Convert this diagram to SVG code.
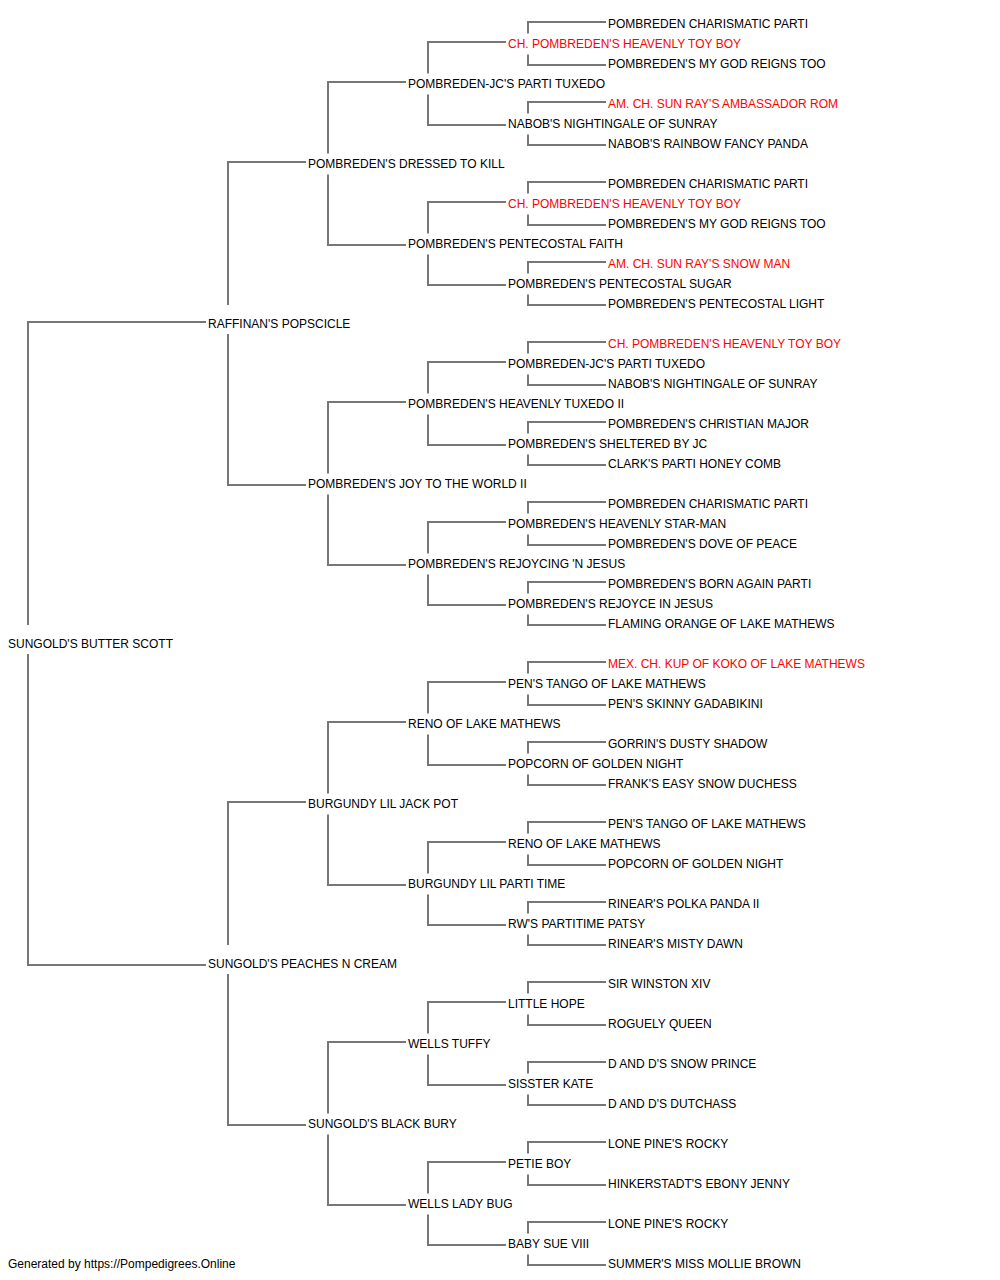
<svg xmlns="http://www.w3.org/2000/svg" width="1000" height="1280" viewBox="0 0 1000 1280">
<style>
text{font-family:"Liberation Sans",Arial,sans-serif;font-size:12px;fill:#000}
.r{fill:#ff0000}
#connectors path{fill:none;stroke:#777;stroke-width:2}
</style>
<rect width="1000" height="1280" fill="#fff"/>
<g id="connectors">
<path d="M206 322H28V625M28 654V965H206"/>
<path d="M306 162H228V305M228 334V485H306"/>
<path d="M306 802H228V945M228 974V1125H306"/>
<path d="M406 82H328V153.5M328 174.5V245H406"/>
<path d="M406 402H328V473.5M328 494.5V565H406"/>
<path d="M406 722H328V793.5M328 814.5V885H406"/>
<path d="M406 1042H328V1113.5M328 1134.5V1205H406"/>
<path d="M506 42H428V73.5M428 94.5V125H506"/>
<path d="M506 202H428V233.5M428 254.5V285H506"/>
<path d="M506 362H428V393.5M428 414.5V445H506"/>
<path d="M506 522H428V553.5M428 574.5V605H506"/>
<path d="M506 682H428V713.5M428 734.5V765H506"/>
<path d="M506 842H428V873.5M428 894.5V925H506"/>
<path d="M506 1002H428V1033.5M428 1054.5V1085H506"/>
<path d="M506 1162H428V1193.5M428 1214.5V1245H506"/>
<path d="M606 22H528V33.5M528 54.5V65H606"/>
<path d="M606 102H528V113.5M528 134.5V145H606"/>
<path d="M606 182H528V193.5M528 214.5V225H606"/>
<path d="M606 262H528V273.5M528 294.5V305H606"/>
<path d="M606 342H528V353.5M528 374.5V385H606"/>
<path d="M606 422H528V433.5M528 454.5V465H606"/>
<path d="M606 502H528V513.5M528 534.5V545H606"/>
<path d="M606 582H528V593.5M528 614.5V625H606"/>
<path d="M606 662H528V673.5M528 694.5V705H606"/>
<path d="M606 742H528V753.5M528 774.5V785H606"/>
<path d="M606 822H528V833.5M528 854.5V865H606"/>
<path d="M606 902H528V913.5M528 934.5V945H606"/>
<path d="M606 982H528V993.5M528 1014.5V1025H606"/>
<path d="M606 1062H528V1073.5M528 1094.5V1105H606"/>
<path d="M606 1142H528V1153.5M528 1174.5V1185H606"/>
<path d="M606 1222H528V1233.5M528 1254.5V1265H606"/>
</g>
<g id="n0"><text x="8" y="648">SUNGOLD'S BUTTER SCOTT</text></g>
<g id="n1a"><text x="208" y="328">RAFFINAN'S POPSCICLE</text></g>
<g id="n1b"><text x="208" y="968">SUNGOLD'S PEACHES N CREAM</text></g>
<g id="n2a"><text x="308" y="168">POMBREDEN'S DRESSED TO KILL</text></g>
<g id="n2b"><text x="308" y="488">POMBREDEN'S JOY TO THE WORLD II</text></g>
<g id="n2c"><text x="308" y="808">BURGUNDY LIL JACK POT</text></g>
<g id="n2d"><text x="308" y="1128">SUNGOLD'S BLACK BURY</text></g>
<g id="n3a"><text x="408" y="88">POMBREDEN-JC'S PARTI TUXEDO</text></g>
<g id="n3b"><text x="408" y="248">POMBREDEN'S PENTECOSTAL FAITH</text></g>
<g id="n3c"><text x="408" y="408">POMBREDEN'S HEAVENLY TUXEDO II</text></g>
<g id="n3d"><text x="408" y="568">POMBREDEN'S REJOYCING 'N JESUS</text></g>
<g id="n3e"><text x="408" y="728">RENO OF LAKE MATHEWS</text></g>
<g id="n3f"><text x="408" y="888">BURGUNDY LIL PARTI TIME</text></g>
<g id="n3g"><text x="408" y="1048">WELLS TUFFY</text></g>
<g id="n3h"><text x="408" y="1208">WELLS LADY BUG</text></g>
<g id="n4a"><text class="r" x="508" y="48">CH. POMBREDEN'S HEAVENLY TOY BOY</text></g>
<g id="n4b"><text x="508" y="128">NABOB'S NIGHTINGALE OF SUNRAY</text></g>
<g id="n4c"><text class="r" x="508" y="208">CH. POMBREDEN'S HEAVENLY TOY BOY</text></g>
<g id="n4d"><text x="508" y="288">POMBREDEN'S PENTECOSTAL SUGAR</text></g>
<g id="n4e"><text x="508" y="368">POMBREDEN-JC'S PARTI TUXEDO</text></g>
<g id="n4f"><text x="508" y="448">POMBREDEN'S SHELTERED BY JC</text></g>
<g id="n4g"><text x="508" y="528">POMBREDEN'S HEAVENLY STAR-MAN</text></g>
<g id="n4h"><text x="508" y="608">POMBREDEN'S REJOYCE IN JESUS</text></g>
<g id="n4i"><text x="508" y="688">PEN'S TANGO OF LAKE MATHEWS</text></g>
<g id="n4j"><text x="508" y="768">POPCORN OF GOLDEN NIGHT</text></g>
<g id="n4k"><text x="508" y="848">RENO OF LAKE MATHEWS</text></g>
<g id="n4l"><text x="508" y="928">RW'S PARTITIME PATSY</text></g>
<g id="n4m"><text x="508" y="1008">LITTLE HOPE</text></g>
<g id="n4n"><text x="508" y="1088">SISSTER KATE</text></g>
<g id="n4o"><text x="508" y="1168">PETIE BOY</text></g>
<g id="n4p"><text x="508" y="1248">BABY SUE VIII</text></g>
<g id="n5a"><text x="608" y="28">POMBREDEN CHARISMATIC PARTI</text></g>
<g id="n5b"><text x="608" y="68">POMBREDEN'S MY GOD REIGNS TOO</text></g>
<g id="n5c"><text class="r" x="608" y="108">AM. CH. SUN RAY'S AMBASSADOR ROM</text></g>
<g id="n5d"><text x="608" y="148">NABOB'S RAINBOW FANCY PANDA</text></g>
<g id="n5e"><text x="608" y="188">POMBREDEN CHARISMATIC PARTI</text></g>
<g id="n5f"><text x="608" y="228">POMBREDEN'S MY GOD REIGNS TOO</text></g>
<g id="n5g"><text class="r" x="608" y="268">AM. CH. SUN RAY'S SNOW MAN</text></g>
<g id="n5h"><text x="608" y="308">POMBREDEN'S PENTECOSTAL LIGHT</text></g>
<g id="n5i"><text class="r" x="608" y="348">CH. POMBREDEN'S HEAVENLY TOY BOY</text></g>
<g id="n5j"><text x="608" y="388">NABOB'S NIGHTINGALE OF SUNRAY</text></g>
<g id="n5k"><text x="608" y="428">POMBREDEN'S CHRISTIAN MAJOR</text></g>
<g id="n5l"><text x="608" y="468">CLARK'S PARTI HONEY COMB</text></g>
<g id="n5m"><text x="608" y="508">POMBREDEN CHARISMATIC PARTI</text></g>
<g id="n5n"><text x="608" y="548">POMBREDEN'S DOVE OF PEACE</text></g>
<g id="n5o"><text x="608" y="588">POMBREDEN'S BORN AGAIN PARTI</text></g>
<g id="n5p"><text x="608" y="628">FLAMING ORANGE OF LAKE MATHEWS</text></g>
<g id="n5q"><text class="r" x="608" y="668">MEX. CH. KUP OF KOKO OF LAKE MATHEWS</text></g>
<g id="n5r"><text x="608" y="708">PEN'S SKINNY GADABIKINI</text></g>
<g id="n5s"><text x="608" y="748">GORRIN'S DUSTY SHADOW</text></g>
<g id="n5t"><text x="608" y="788">FRANK'S EASY SNOW DUCHESS</text></g>
<g id="n5u"><text x="608" y="828">PEN'S TANGO OF LAKE MATHEWS</text></g>
<g id="n5v"><text x="608" y="868">POPCORN OF GOLDEN NIGHT</text></g>
<g id="n5w"><text x="608" y="908">RINEAR'S POLKA PANDA II</text></g>
<g id="n5x"><text x="608" y="948">RINEAR'S MISTY DAWN</text></g>
<g id="n5y"><text x="608" y="988">SIR WINSTON XIV</text></g>
<g id="n5z"><text x="608" y="1028">ROGUELY QUEEN</text></g>
<g id="n5aa"><text x="608" y="1068">D AND D'S SNOW PRINCE</text></g>
<g id="n5ab"><text x="608" y="1108">D AND D'S DUTCHASS</text></g>
<g id="n5ac"><text x="608" y="1148">LONE PINE'S ROCKY</text></g>
<g id="n5ad"><text x="608" y="1188">HINKERSTADT'S EBONY JENNY</text></g>
<g id="n5ae"><text x="608" y="1228">LONE PINE'S ROCKY</text></g>
<g id="n5af"><text x="608" y="1268">SUMMER'S MISS MOLLIE BROWN</text></g>
<text x="8" y="1268">Generated by https://Pompedigrees.Online</text>
</svg>
